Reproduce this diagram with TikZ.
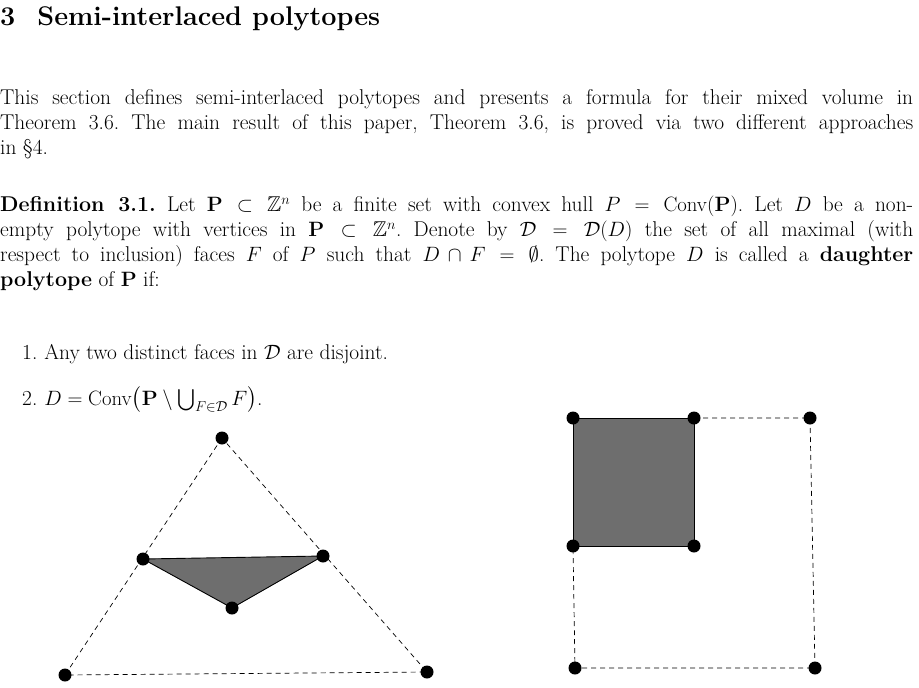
\documentclass[tikz,border=0pt]{standalone}
\usepackage{amssymb,amsmath}
\begin{document}
\begin{tikzpicture}[x=1pt,y=-1pt,
  para/.style={anchor=north west,inner sep=0pt,text width=913pt,align=justify,font=\fontsize{21.4}{25}\selectfont},
  ln/.style={anchor=base west,inner sep=0pt,font=\fontsize{21.4}{25}\selectfont},
  dot/.style={circle,fill=black,inner sep=0pt,minimum size=13pt},
  dl/.style={dashed,dash pattern=on 5pt off 4pt,line width=0.7pt}]
\useasboundingbox (0,0) rectangle (919,688);
\frenchspacing
\node[anchor=base west,inner sep=0pt,font=\fontsize{27}{30}\selectfont\bfseries] (h) at (0,25) {3\hspace{22pt}Semi-interlaced polytopes};
\node[para] (l1) at (0,89) {\parindent=0pt\frenchspacing This section defines semi-interlaced polytopes and presents a formula for their mixed volume in\linebreak Theorem 3.6. The main result of this paper, Theorem 3.6, is proved via two different approaches\linebreak in \S4.};
\node[para] (d1) at (0,196) {\parindent=0pt\frenchspacing \textbf{Definition 3.1.} Let $\mathbf{P}\subset\mathbb{Z}^n$ be a finite set with convex hull $P=\mathrm{Conv}(\mathbf{P})$. Let $D$ be a non-\linebreak empty polytope with vertices in $\mathbf{P}\subset\mathbb{Z}^n$. Denote by $\mathcal{D}=\mathcal{D}(D)$ the set of all maximal (with\linebreak respect to inclusion) faces $F$ of $P$ such that $D\cap F=\emptyset$. The polytope $D$ is called a \textbf{daughter}\linebreak \textbf{polytope} of $\mathbf{P}$ if:};
\node[ln] (i1) at (22,359) {1.\hspace{7pt}Any two distinct faces in $\mathcal{D}$ are disjoint.};
\node[ln] (i2) at (22,405) {2.\hspace{7pt}$D=\mathrm{Conv}\bigl(\mathbf{P}\setminus\bigcup_{F\in\mathcal{D}}F\bigr)$.};
% triangle
\coordinate (t1) at (222,438); \coordinate (t2) at (65,675); \coordinate (t3) at (427,672);
\coordinate (a1) at (143,559); \coordinate (a2) at (323,556); \coordinate (a3) at (232,608);
\draw[dl] (t1)--(t2)--(t3)--cycle;
\fill[black!57] (a1)--(a2)--(a3)--cycle;
\draw[line width=0.9pt] (a1)--(a2)--(a3)--cycle;
\foreach \p in {t1,t2,t3,a1,a2,a3} \node[dot] at (\p) {};
% square
\coordinate (s1) at (573,418); \coordinate (s2) at (694,418); \coordinate (s3) at (810,418);
\coordinate (s4) at (573,546); \coordinate (s5) at (694,546);
\coordinate (s6) at (575,668); \coordinate (s7) at (815,668);
\fill[black!57] (s1) rectangle (s5);
\draw[line width=0.9pt] (s1)--(s2)--(s5)--(s4)--cycle;
\draw[dl] (s2)--(s3)--(s7)--(s6)--(s4);
\foreach \p in {s1,s2,s3,s4,s5,s6,s7} \node[dot] at (\p) {};
\end{tikzpicture}
\end{document}
